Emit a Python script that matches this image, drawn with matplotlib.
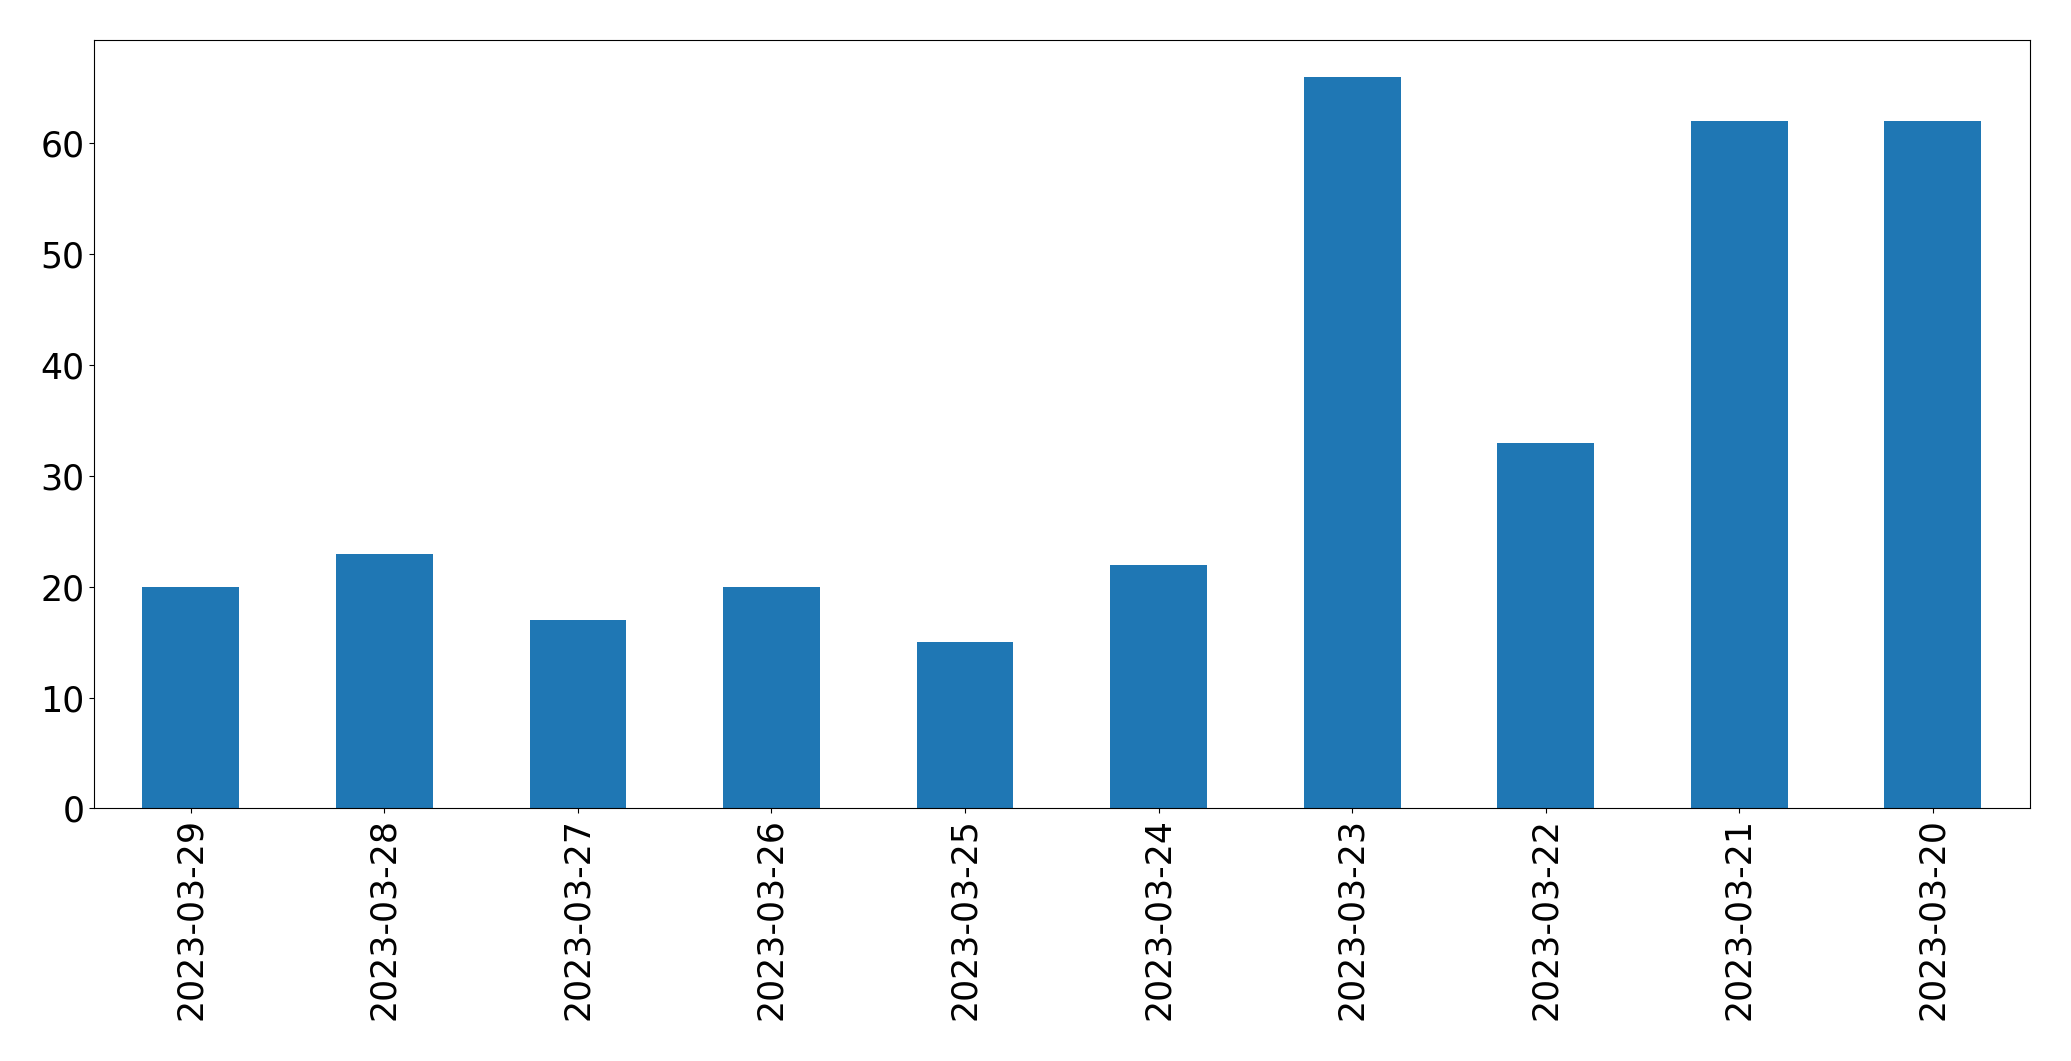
import matplotlib
matplotlib.use("Agg")
import matplotlib.pyplot as plt

dates = ["2023-03-29", "2023-03-28", "2023-03-27", "2023-03-26", "2023-03-25",
         "2023-03-24", "2023-03-23", "2023-03-22", "2023-03-21", "2023-03-20"]
counts = [20, 23, 17, 20, 15, 22, 66, 33, 62, 62]

fig = plt.figure(figsize=(20.71, 10.61), dpi=100)
ax = fig.add_axes([0.0454, 0.238, 0.9346, 0.724])
x = list(range(len(dates)))
ax.bar(x, counts, width=0.5, color="#1f77b4")
ax.set_xlim(-0.5, len(dates) - 0.5)
ax.set_xticks(x)
ax.set_xticklabels(dates, rotation=90)
ax.tick_params(labelsize=25)
fig.savefig("out.png", dpi=100)
